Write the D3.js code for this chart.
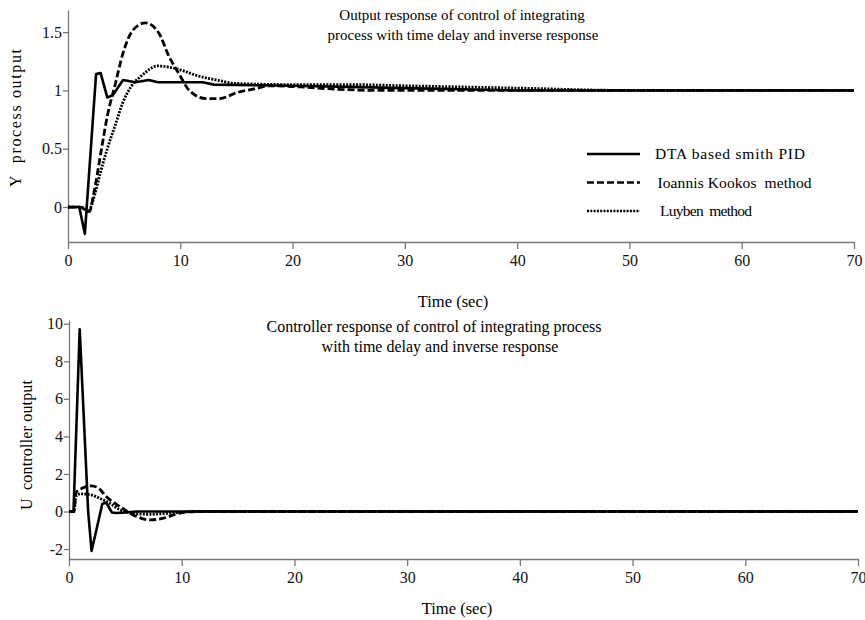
<!DOCTYPE html>
<html>
<head>
<meta charset="utf-8">
<script src="https://cdn.jsdelivr.net/npm/d3@7"></script>
<style>
  body { margin: 0; background: #fff; }
  svg text { font-family: "Liberation Serif", serif; white-space: pre; }
</style>
</head>
<body>
<script>
// process output, [time, value]
let dtaY = [[0,0],[1,0],[1.5,-0.23],[2.5,1.14],[2.9,1.15],[3.5,0.94],[4,0.96],[4.9,1.09],[6,1.07],[7.2,1.09],[8,1.07],[12,1.07],[13,1.05],[20,1.04],[30,1.02],[40,1.0],[70,1.0]];
let kookosY = [[0,0],[1,0],[1.5,-0.02],[1.9,-0.04],[2.3,0.12],[2.9,0.45],[3.5,0.78],[4.2,1.05],[4.9,1.32],[5.8,1.52],[6.9,1.58],[8.1,1.49],[9,1.29],[9.9,1.14],[10.8,1.0],[12.3,0.93],[13.5,0.93],[15,0.98],[16.9,1.02],[18,1.04],[20.7,1.03],[24,1.01],[28,1.0],[70,1.0]];
let luybenY = [[0,0],[1.2,0],[1.8,-0.04],[2.3,0.08],[2.9,0.3],[3.5,0.5],[4.2,0.7],[4.9,0.9],[5.6,1.03],[6.6,1.13],[8,1.21],[9,1.2],[10.2,1.17],[11.4,1.13],[13.2,1.09],[15,1.06],[20,1.05],[25,1.05],[30,1.04],[40,1.02],[50,1.0],[70,1.0]];

// controller output, [time, value]
let dtaU = [[0,0],[0.4,0],[0.45,0.9],[0.95,9.7],[1.7,0],[2.0,-2.1],[2.5,-0.8],[2.95,0.4],[3.3,0.48],[3.8,-0.05],[4.2,-0.08],[5,-0.05],[6,0],[70,0]];
let kookosU = [[0,0],[0.45,0],[0.6,1.0],[1.2,1.25],[2,1.37],[2.7,1.2],[3.3,0.8],[4.5,0.27],[5.7,-0.18],[7.2,-0.45],[8.4,-0.35],[9.6,-0.12],[10.4,-0.03],[11.5,0],[70,0]];
let luybenU = [[0,0],[0.45,0],[0.6,0.8],[1,0.94],[1.9,0.89],[2.75,0.7],[3.6,0.44],[4.5,0.1],[5.7,-0.1],[7.2,-0.15],[8.7,-0.1],[9.9,-0.05],[11,0],[70,0]];

let xTicks = [0,10,20,30,40,50,60,70];
let yTicksTop = [0,0.5,1,1.5];
let yTicksBottom = [-2,0,2,4,6,8,10];
let legendNames = ["DTA based smith PID","Ioannis Kookos  method","Luyben  method"];

let dashes = [null, "7,3", "2,1.3"];

const svg = d3.select("body")
  .append("svg")
  .attr("width", 865)
  .attr("height", 620);

function drawPanel(opts) {
  const x = d3.scaleLinear().domain([0,70]).range(opts.xr);
  const y = d3.scaleLinear().domain(opts.yd).range(opts.yr);

  const gx = svg.append("g")
    .attr("transform", "translate(0," + opts.yr[0] + ")")
    .call(d3.axisBottom(x).tickValues(xTicks).tickSize(7).tickSizeOuter(0).tickFormat(d3.format("d")));
  const gy = svg.append("g")
    .attr("transform", "translate(" + opts.xr[0] + ",0)")
    .call(d3.axisLeft(y).tickValues(opts.yTicks).tickSize(5).tickSizeOuter(0).tickFormat(opts.fmt));

  [gx, gy].forEach(function(g) {
    g.attr("font-family", null).attr("font-size", 16);
    g.selectAll("path, line").attr("stroke", "#777").attr("stroke-width", 1.3);
    g.selectAll("text").attr("fill", "#111");
  });
  gx.selectAll("text").attr("dy", "0.85em");
  gy.selectAll("text").attr("x", -6);

  opts.series.forEach(function(s, i) {
    const line = d3.line()
      .x(function(d) { return x(d[0]); })
      .y(function(d) { return y(d[1]); })
      .curve(i == 0 ? d3.curveLinear : d3.curveMonotoneX);
    svg.append("path")
      .datum(s)
      .attr("d", line)
      .attr("fill", "none")
      .attr("stroke", "#000")
      .attr("stroke-width", i == 0 ? 2.6 : 2.8)
      .attr("stroke-linejoin", "round")
      .attr("stroke-dasharray", dashes[i]);
  });

  opts.title.forEach(function(t, i) {
    svg.append("text")
      .attr("x", opts.titleX[i])
      .attr("y", opts.titleY + i * 20)
      .attr("text-anchor", "middle")
      .attr("font-size", opts.titleSize + "px")
      .text(t);
  });

  svg.append("text")
    .attr("x", opts.xLabelX)
    .attr("y", opts.xLabelY)
    .attr("text-anchor", "middle")
    .attr("font-size", "16.5px")
    .text("Time (sec)");

  svg.append("text")
    .attr("transform", "translate(" + opts.yLabelX + "," + opts.yLabelY + ") rotate(-90)")
    .attr("text-anchor", "middle")
    .attr("font-size", "16px")
    .attr("textLength", opts.yLabelLen)
    .attr("lengthAdjust", "spacing")
    .text(opts.yLabel);
}

drawPanel({
  xr: [68, 854], yd: [-0.3, 1.69], yr: [242, 10],
  yTicks: yTicksTop,
  fmt: function(d) { return d; },
  series: [dtaY, kookosY, luybenY],
  title: ["Output response of control of integrating", "process with time delay and inverse response"],
  titleX: [462, 463], titleY: 20, titleSize: 15,
  xLabelX: 453, xLabelY: 307,
  yLabel: "Y  process output", yLabelX: 21, yLabelY: 118, yLabelLen: 138
});

drawPanel({
  xr: [69, 858], yd: [-2.53, 10.2], yr: [559, 320],
  yTicks: yTicksBottom,
  fmt: function(d) { return d; },
  series: [dtaU, kookosU, luybenU],
  title: ["Controller response of control of integrating process", "with time delay and inverse response"],
  titleX: [434, 440], titleY: 332, titleSize: 16,
  xLabelX: 457, xLabelY: 614,
  yLabel: "U  controller output", yLabelX: 32, yLabelY: 445, yLabelLen: 130
});

// legend
let legendLen = [150, 154, 92];
const legend = svg.append("g");
legendNames.forEach(function(name, i) {
  const ly = 154 + i * 28.5;
  legend.append("line")
    .attr("x1", 587).attr("x2", 640)
    .attr("y1", ly).attr("y2", ly)
    .attr("stroke", "#000")
    .attr("stroke-width", 2.6)
    .attr("stroke-dasharray", dashes[i]);
  legend.append("text")
    .attr("x", 655 + i * 2.5)
    .attr("y", ly + 5)
    .attr("font-size", "15.5px")
    .attr("textLength", legendLen[i])
    .attr("lengthAdjust", "spacing")
    .text(name);
});
</script>
</body>
</html>
